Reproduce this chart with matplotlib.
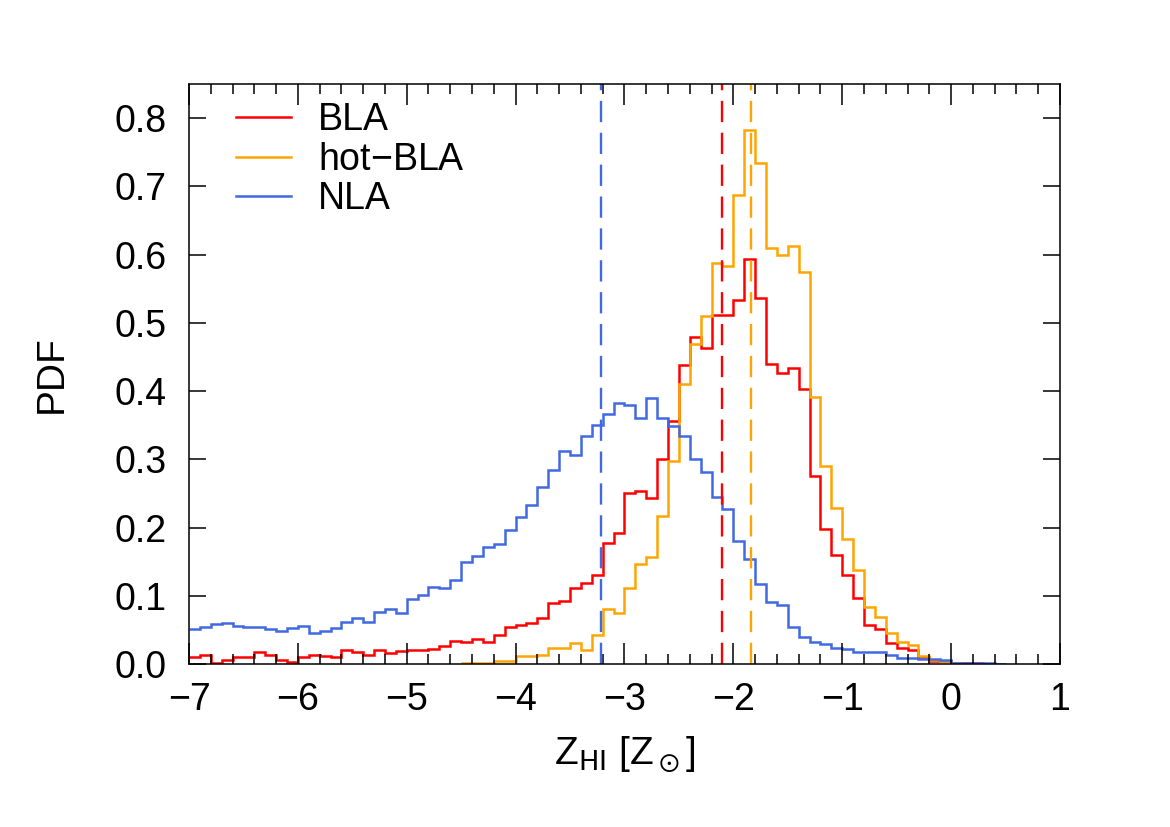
#!/usr/bin/env python3
"""
Metallicity PDF of BLA / hot-BLA / NLA absorbers
"""

import numpy as np
import matplotlib.pyplot as plt

# histogram binning: 0.1 dex bins from -7 to 1
bin_lo = -7.0
bin_width = 0.1

# BLA, bins starting at -7.0
bla_pdf = [0.010, 0.013, 0.002, 0.006, 0.011, 0.010, 0.017, 0.013, 0.006, 0.003,
           0.011, 0.013, 0.012, 0.010, 0.020, 0.018, 0.013, 0.020, 0.016, 0.019,
           0.021, 0.021, 0.022, 0.026, 0.034, 0.033, 0.037, 0.032, 0.043, 0.054,
           0.057, 0.060, 0.068, 0.090, 0.092, 0.112, 0.119, 0.130, 0.178, 0.192,
           0.251, 0.254, 0.244, 0.301, 0.356, 0.438, 0.480, 0.463, 0.512, 0.512,
           0.534, 0.594, 0.536, 0.440, 0.427, 0.434, 0.403, 0.275, 0.198, 0.160,
           0.130, 0.097, 0.058, 0.052, 0.031, 0.023, 0.021, 0.011, 0.004, 0.004,
           0.002, 0.001, 0.001]
bla_first_bin = 0

# hot-BLA, bins starting at -4.5
hot_bla_pdf = [0.002, 0.002, 0.002, 0.004, 0.004, 0.012, 0.012, 0.014, 0.024, 0.024,
               0.031, 0.020, 0.043, 0.080, 0.075, 0.111, 0.146, 0.157, 0.217, 0.297,
               0.411, 0.469, 0.510, 0.588, 0.583, 0.687, 0.782, 0.734, 0.610, 0.599,
               0.613, 0.574, 0.391, 0.290, 0.228, 0.184, 0.138, 0.084, 0.069, 0.045,
               0.033, 0.028, 0.012, 0.006, 0.004, 0.002]
hot_bla_first_bin = 25

# NLA, bins starting at -7.0
nla_pdf = [0.051, 0.055, 0.059, 0.060, 0.056, 0.055, 0.054, 0.052, 0.049, 0.053,
           0.056, 0.045, 0.049, 0.053, 0.061, 0.068, 0.061, 0.077, 0.081, 0.075,
           0.095, 0.101, 0.113, 0.111, 0.123, 0.149, 0.159, 0.172, 0.176, 0.197,
           0.216, 0.233, 0.260, 0.285, 0.312, 0.307, 0.334, 0.350, 0.366, 0.382,
           0.379, 0.360, 0.390, 0.360, 0.349, 0.334, 0.301, 0.281, 0.245, 0.227,
           0.180, 0.154, 0.117, 0.091, 0.087, 0.055, 0.039, 0.032, 0.030, 0.023,
           0.022, 0.018, 0.017, 0.018, 0.013, 0.009, 0.009, 0.007, 0.007, 0.006,
           0.002, 0.002, 0.001, 0.001, 0.0005]
nla_first_bin = 0

# median metallicities (dashed lines)
bla_median = -2.108
hot_bla_median = -1.842
nla_median = -3.217

labels = ['BLA', 'hot$-$BLA', 'NLA']
colors = ['#ff0000', '#ffa500', '#4169e1']


def edges_for(values, first_bin):
    start = bin_lo + first_bin * bin_width
    return start + bin_width * np.arange(len(values) + 1)


def plot_pdf():
    plt.rcParams['font.family'] = ['Liberation Sans', 'DejaVu Sans']
    plt.rcParams['mathtext.default'] = 'regular'

    fig = plt.figure(figsize=(11.7, 8.27), dpi=100)
    ax = fig.add_axes([0.1615, 0.197, 0.7445, 0.7014])

    series = [(bla_pdf, bla_first_bin), (hot_bla_pdf, hot_bla_first_bin),
              (nla_pdf, nla_first_bin)]
    for (vals, first), lab, col in zip(series, labels, colors):
        ax.stairs(vals, edges_for(vals, first), baseline=None,
                  color=col, linewidth=1.8, label=lab)

    for med, col in zip([bla_median, hot_bla_median, nla_median], colors):
        ax.axvline(med, color=col, linewidth=1.7, dashes=(9, 4.5))

    ax.set_xlim(-7, 1)
    ax.set_ylim(0, 0.85)
    ax.set_xticks(np.arange(-7, 2, 1))
    ax.set_xticks(np.arange(-7, 1.01, 0.2), minor=True)
    ax.set_yticks(np.arange(0, 0.81, 0.1))
    ax.set_xticklabels(['$-$%d' % abs(v) if v < 0 else '%d' % v for v in range(-7, 2)])
    ax.set_yticklabels(['%.1f' % v for v in np.arange(0, 0.81, 0.1)])

    ax.tick_params(axis='both', which='both', direction='in',
                   top=True, right=True, width=1.1, labelsize=27)
    ax.tick_params(axis='x', which='major', length=15, pad=13)
    ax.tick_params(axis='x', which='minor', length=7.5)
    ax.tick_params(axis='y', which='major', length=12, pad=16)
    for sp in ax.spines.values():
        sp.set_linewidth(1.1)

    ax.set_xlabel(r'Z$_{\rm HI}$ [Z$_\odot$]', fontsize=28, labelpad=12)
    ax.set_ylabel('PDF', fontsize=28, labelpad=32)

    ax.legend(loc='upper left', frameon=False, fontsize=27,
              handlelength=1.47, handletextpad=0.7, labelspacing=0.1,
              borderaxespad=0.0, bbox_to_anchor=(0.037, 0.995))

    fig.savefig('out.png', dpi=100)


if __name__ == "__main__":
    plot_pdf()
